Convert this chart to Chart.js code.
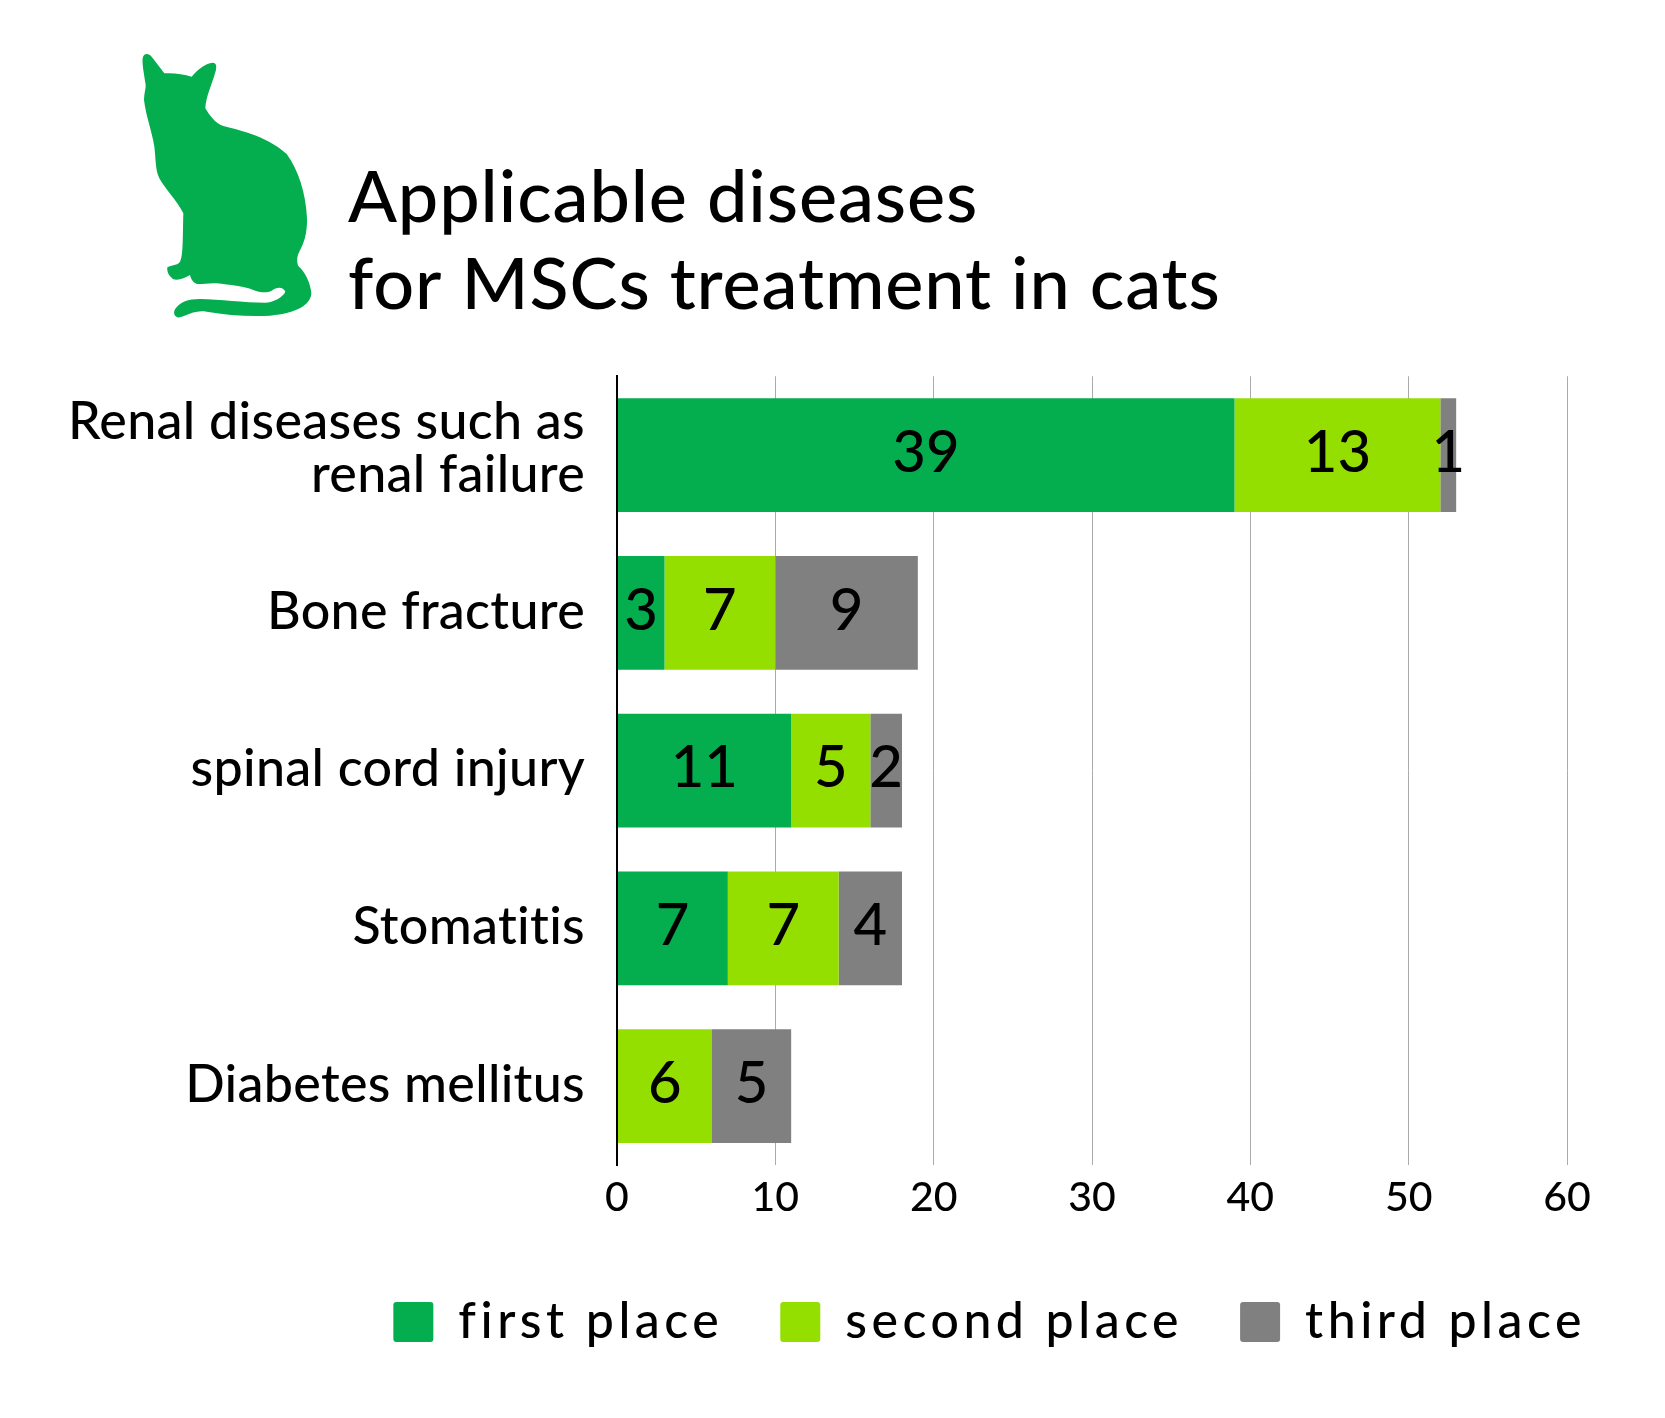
<!DOCTYPE html>
<html><head><meta charset="utf-8">
<style>html,body{margin:0;padding:0;background:#fff}#wrap{position:relative;width:1665px;height:1418px}canvas{display:block}#cat{position:absolute;left:120px;top:30px;width:220px;height:310px}</style>
<script src="https://cdn.jsdelivr.net/npm/chart.js@4"></script>
</head><body>
<div id="wrap"><canvas id="c" width="1665" height="1418"></canvas>
<svg id="cat" viewBox="0 0 660 930"><path fill="#04AE4F" d="M68 85C70 70 85 68 95 80L133 130C160 128 190 132 215 140C232 120 255 100 278 98C292 98 290 115 285 130C275 165 258 200 256 235C268 255 285 280 310 288C370 302 450 325 500 372C535 420 558 490 561 565C562 610 552 640 538 665C530 680 530 695 535 708C555 725 572 760 574 790C572 825 530 850 450 857C380 860 320 855 260 845C225 840 205 855 180 862C165 865 158 850 165 838C180 815 205 807 240 807C300 808 370 818 435 818C460 818 490 800 496 785C490 770 470 770 455 782C440 790 420 788 400 780C370 768 330 765 290 760C270 758 245 763 232 762C220 760 212 745 210 735C195 745 175 752 160 748C150 740 140 730 142 712C150 705 170 708 180 695C190 680 188 620 190 550C170 510 130 470 118 445C105 415 108 390 103 350C95 300 78 260 72 210C72 190 78 175 77 165C72 130 66 105 68 85Z"/></svg>
</div>
<script>
const titleLines = ["Applicable diseases", "for MSCs treatment in cats"];
const categories = [["Renal diseases such as", "renal failure"], "Bone fracture", "spinal cord injury", "Stomatitis", "Diabetes mellitus"];
const seriesNames = ["first place", "second place", "third place"];
const firstPlace = [39, 3, 11, 7, 0];
const secondPlace = [13, 7, 5, 7, 6];
const thirdPlace = [1, 9, 2, 4, 5];
const xTicks = [0, 10, 20, 30, 40, 50, 60];
const colors = ["#04AE4F", "#94DF00", "#808080"];
const FONT = "Lato";

function spaced(obj, method, px) {
  const orig = obj[method];
  obj[method] = function () {
    const ctx = this.ctx;
    ctx.letterSpacing = px + "px";
    const r = orig.apply(this, arguments);
    ctx.letterSpacing = "0px";
    return r;
  };
}

const valueLabels = {
  id: "valueLabels",
  afterDatasetsDraw(chart) {
    const ctx = chart.ctx;
    ctx.save();
    ctx.font = "500 58px " + FONT;
    ctx.fillStyle = "#000";
    ctx.textAlign = "center";
    ctx.textBaseline = "middle";
    chart.data.datasets.forEach((ds, i) => {
      chart.getDatasetMeta(i).data.forEach((el, j) => {
        if (!ds.data[j]) return;
        const p = el.getCenterPoint();
        ctx.fillText(String(ds.data[j]), p.x, p.y - 2);
      });
    });
    ctx.restore();
  }
};
const textTweaks = {
  id: "textTweaks",
  beforeLayout(chart) {
    if (chart.$tw) return;
    chart.$tw = true;
    spaced(chart.legend, "fit", 4.5);
    spaced(chart.legend, "draw", 4.5);
    spaced(chart.titleBlock, "draw", 0.9);
    spaced(chart.scales.y, "drawLabels", 0.3);
  },
  afterLayout(chart) {
    chart.legend.right += 76;
    chart.legend.left += 76;
  },
  beforeDraw(chart) {
    chart.titleBlock.left = 348;
    const items = chart.scales.y.getLabelItems();
    items.forEach((it, i) => { it.options.translation[1] -= i === 0 ? 6 : 1; });
  }
};

const series = [firstPlace, secondPlace, thirdPlace];
new Chart(document.getElementById("c"), {
  type: "bar",
  plugins: [valueLabels, textTweaks],
  data: {
    labels: categories,
    datasets: series.map((d, i) => ({
      label: seriesNames[i], data: d, backgroundColor: colors[i],
      barPercentage: 0.72, categoryPercentage: 1, borderWidth: 0
    }))
  },
  options: {
    indexAxis: "y",
    responsive: false,
    animation: false,
    layout: { padding: { top: 155, right: 98, bottom: 61, left: 0 } },
    plugins: {
      tooltip: { enabled: false },
      title: {
        display: true, text: titleLines, align: "start", fullSize: true, color: "#000",
        font: { family: FONT, size: 72, lineHeight: 1.21, weight: "500" },
        padding: { top: 0, bottom: 47 }
      },
      legend: {
        position: "bottom", align: "end",
        labels: {
          color: "#000", boxWidth: 40, boxHeight: 40, padding: 57,
          font: { family: FONT, size: 50, weight: "500" },
          generateLabels(chart) {
            return chart.data.datasets.map((d, i) => ({
              text: d.label, fillStyle: d.backgroundColor, strokeStyle: d.backgroundColor,
              lineWidth: 0, datasetIndex: i, borderRadius: 3, fontColor: "#000"
            }));
          },
          useBorderRadius: true, borderRadius: 3
        }
      }
    },
    scales: {
      x: {
        stacked: true, min: 0, max: 60,
        afterBuildTicks(axis) { axis.ticks = xTicks.map(v => ({ value: v })); },
        afterFit(axis) { axis.height = 75; },
        grid: { color: "#ababab", lineWidth: 1, drawTicks: false },
        border: { display: false },
        ticks: { color: "#000", padding: 8, maxRotation: 0, font: { family: FONT, size: 41, weight: "500" } }
      },
      y: {
        stacked: true,
        afterFit(axis) { axis.width = 617; },
        grid: { display: false },
        border: { display: true, color: "#000", width: 2, z: 1 },
        ticks: { color: "#000", padding: 24, autoSkip: false, font: { family: FONT, size: 52, lineHeight: 1.02, weight: "500" } }
      }
    }
  }
});
</script>
</body></html>
